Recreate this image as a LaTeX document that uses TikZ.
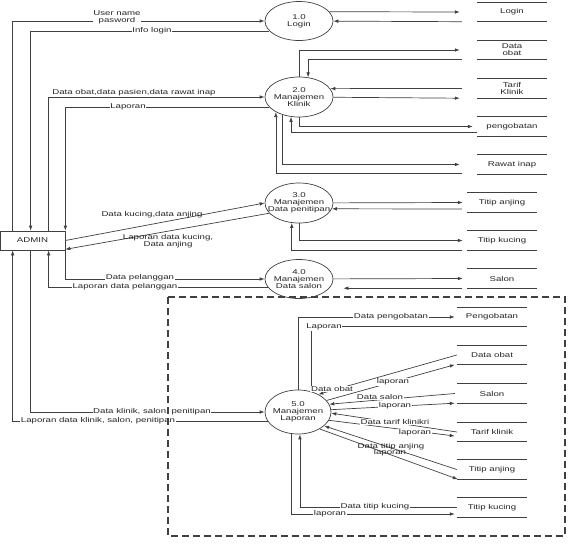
\documentclass[tikz,border=0pt]{standalone}
\usepackage{fontspec}
\setmainfont{Liberation Sans}[FakeStretch=1.38]
\usetikzlibrary{arrows.meta,positioning,shapes.geometric,calc}

\begin{document}
\begin{tikzpicture}
	% Styles
	[
	x=1pt,y=-1pt,
	>={Latex[length=5pt,width=3.6pt]},
	font=\fontsize{7}{6.8}\selectfont,
	process/.style={ellipse,draw=black!75,line width=0.7pt,minimum width=68pt,minimum height=40pt,inner sep=0pt},
	entity/.style={rectangle,draw=black!75,line width=0.7pt,minimum width=65pt,minimum height=19pt,inner sep=0pt,text=black!85},
	store/.style={minimum width=70pt,minimum height=19pt,inner sep=0pt,align=center,text=black!85},
	flow/.style={->,draw=black!75,line width=0.7pt},
	flowtext/.style={fill=white,inner sep=0.6pt,align=center,text=black!85},
	bare/.style={inner sep=0.6pt,align=center,text=black!85},
	]

	\useasboundingbox (0,0) rectangle (570,544);

	% Nodes
	\node at (32.5,240.5)	(admin)	[entity]	{ADMIN};
	\node at (299,21)	(p1)	[process,minimum height=39pt]	{};
	\node at (299,97)	(p2)	[process]	{};
	\node at (299,203)	(p3)	[process]	{};
	\node at (299,279)	(p4)	[process,minimum height=39pt]	{};
	\node at (298,412)	(p5)	[process,minimum width=66pt,minimum height=44pt]	{};

	\node at (512,12)	(dLogin)	[store]	{Login};
	\node at (512,50)	(dObat)	[store]	{Data\\obat};
	\node at (512,88.5)	(dTarif)	[store]	{Tarif\\Klinik};
	\node at (512,126.5)	(dPengobatan)	[store]	{pengobatan};
	\node at (512,164.5)	(dRawat)	[store]	{Rawat inap};
	\node at (502,202.5)	(dAnjing)	[store]	{Titip anjing};
	\node at (502,240.5)	(dKucing)	[store]	{Titip kucing};
	\node at (502,278.5)	(dSalon)	[store]	{Salon};
	\node at (492,317)	(lPengobatan)	[store]	{Pengobatan};
	\node at (492,355)	(lObat)	[store]	{Data obat};
	\node at (492,393.5)	(lSalon)	[store]	{Salon};
	\node at (492,432)	(lTarif)	[store]	{Tarif klinik};
	\node at (492,469.5)	(lAnjing)	[store]	{Titip anjing};
	\node at (492,507.5)	(lKucing)	[store]	{Titip kucing};

	% Store lines
	\foreach \s in {dLogin,dObat,dTarif,dPengobatan,dRawat,dAnjing,dKucing,dSalon,lPengobatan,lObat,lSalon,lTarif,lAnjing,lKucing}
		\draw[black!75,line width=0.7pt] (\s.north west) -- (\s.north east) (\s.south west) -- (\s.south east);

	% Arrows
	\draw[flow] ([xshift=13pt]admin.north west) |- (p1);
	\draw[flow] (p1.199) -| ([xshift=31pt]admin.north west);
	\draw[flow] (p1.17) -- ([xshift=-17pt]dLogin.west);
	\draw[flow] ([xshift=-15pt]dLogin.south west) -- (p1);

	\draw[flow] ([xshift=49pt]admin.north west) |- (p2);
	\draw[flow] (p2.199) -| (admin.north east);
	\draw[flow] (p2.north) |- ([xshift=-17pt]dObat.west);
	\draw[flow] ([xshift=-15pt]dObat.south west) -| (p2.65);
	\draw[flow] ([xshift=-15pt]dTarif.west) -- (p2.15);
	\draw[flow] (p2) -- ([xshift=-17pt]dTarif.south west);
	\draw[flow] (p2.south) |- ([xshift=-4pt]dPengobatan.west);
	\draw[flow] ([yshift=-5.5pt]dPengobatan.west) -| (p2.248);
	\draw[flow] (p2.228) |- ([xshift=-17pt]dRawat.west);
	\draw[flow] ([xshift=-15pt,yshift=1pt]dRawat.south west) -| (p2.213);

	\draw[flow] (admin.east) -- (p3.west);
	\draw[flow] (p3.199) -- ([yshift=1pt]admin.south east);
	\draw[flow] (p3) -- ([xshift=-4pt]dAnjing.west);
	\draw[flow] ([xshift=-5pt,yshift=-6.5pt]dAnjing.west) -- (p3.350);
	\draw[flow] (p3.south) |- ([xshift=-4pt]dKucing.west);
	\draw[flow] ([xshift=-5pt]dKucing.south west) -| (p3.250);

	\draw[flow] (admin.south east) |- (p4);
	\draw[flow] (p4.195) -| ([xshift=49pt]admin.south west);
	\draw[flow] (p4) -- ([xshift=-4pt]dSalon.west);
	\draw[flow] ([xshift=-5pt]dSalon.south west) -- ($(p4.east |- dSalon.south)+(10,0)$);

	\draw[flow] ([xshift=31pt]admin.south west) |- (p5);
	\draw[flow] (p5.197) -| ([xshift=13pt]admin.south west);
	\draw[flow] (p5.north) |- ([xshift=-2pt]lPengobatan.west);
	\draw[flow] (lPengobatan.south west) -| (p5.57);
	\draw[flow] (lObat.west) -- (p5.41);
	\draw[flow] (p5.22) -- ([xshift=-2pt]lObat.south west);
	\draw[flow] ([xshift=-2pt]lSalon.west) -- (p5.14);
	\draw[flow] (p5.4) -- ([xshift=-2pt]lSalon.south west);
	\draw[flow] (lTarif.west) -- (p5.358);
	\draw[flow] (p5.345) -- ([xshift=-2pt,yshift=-4pt]lTarif.west);
	\draw[flow] (lAnjing.west) -- (p5.332);
	\draw[flow] (p5.322) -- ([xshift=1pt]lAnjing.south west);
	\draw[flow] (lKucing.west) -| (p5.275);
	\draw[flow] (p5.252) |- ([xshift=-2pt,yshift=-6.5pt]lKucing.west);

	% Text
	\node at (p1)	(p1txt)	[bare]	{1.0\\Login};
	\node at (p2)	(p2txt)	[bare]	{2.0\\Manajemen\\Klinik};
	\node at (p3)	(p3txt)	[bare]	{3.0\\Manajemen\\Data penitipan};
	\node at (p4)	(p4txt)	[bare]	{4.0\\Manajemen\\Data salon};
	\node at (p5)	(p5txt)	[bare]	{5.0\\Manajemen\\Laporan};

	\node at (117,17)	(tUser)	[flowtext]	{User name\\pasword};
	\node at (152,31)	(tInfo)	[flowtext]	{Info login};
	\node at (134,93)	(tKlinik)	[bare]	{Data obat,data pasien,data rawat inap};
	\node at (128,107)	(tLapKlinik)	[flowtext]	{Laporan};
	\node at (152,215)	(tKucing)	[bare]	{Data kucing,data anjing};
	\node at (168,241)	(tLapKucing)	[bare]	{Laporan data kucing,\\Data anjing};
	\node at (140,278)	(tPelanggan)	[flowtext]	{Data pelanggan};
	\node at (125,287)	(tLapPelanggan)	[flowtext]	{Laporan data pelanggan};
	\node at (152,412)	(tDataLap)	[flowtext]	{Data klinik, salon, penitipan};
	\node at (98,421)	(tLapLap)	[flowtext]	{Laporan data klinik, salon, penitipan};

	\node at (391,317)	(tPengobatan)	[flowtext]	{Data pengobatan};
	\node at (324,327)	(tLapPengobatan)	[flowtext]	{Laporan};
	\node at (332,389)	(tObat)	[flowtext]	{Data obat};
	\node at (393,382)	(tLapObat)	[flowtext]	{laporan};
	\node at (380,396.5)	(tSalon)	[flowtext]	{Data salon};
	\node at (395,406)	(tLapSalon)	[flowtext]	{laporan};
	\node at (395,422)	(tTarif)	[flowtext]	{Data tarif klinikri};
	\node at (415,433)	(tLapTarif)	[flowtext]	{laporan};
	\node at (391,447)	(tAnjing)	[bare]	{Data titip anjing};
	\node at (390,453)	(tLapAnjing)	[bare]	{laporan};
	\node at (375,507)	(tKucingL)	[flowtext]	{Data titip kucing};
	\node at (330,514)	(tLapKucingL)	[flowtext]	{laporan};

	% Report frame
	\draw[black!75,line width=1.1pt,dash pattern=on 7pt off 4pt] (168,297) rectangle (565,536);
\end{tikzpicture}
\end{document}
